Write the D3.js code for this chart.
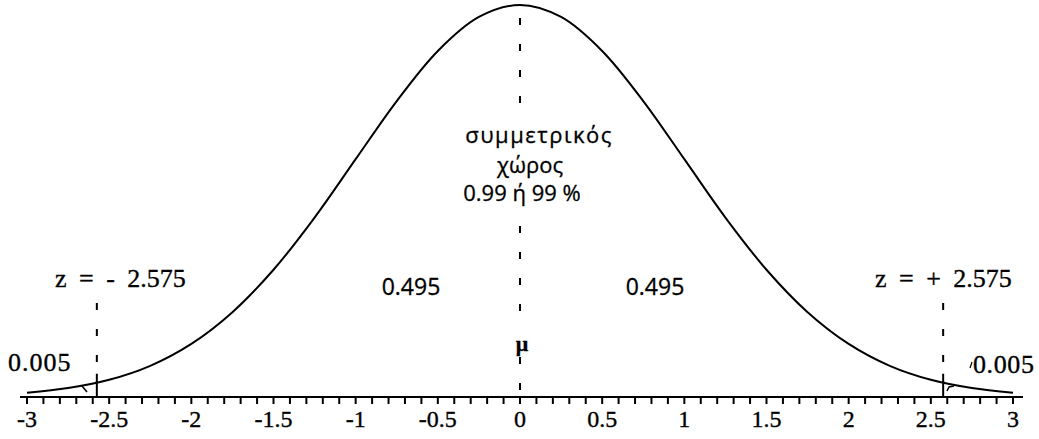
<!DOCTYPE html>
<html>
<head>
<meta charset="utf-8">
<script src="https://cdn.jsdelivr.net/npm/d3@7"></script>
<style>
  html, body { margin: 0; padding: 0; background: #fff; }
  svg { display: block; }
  .serif { font-family: "Liberation Serif", "Times New Roman", serif; fill: #000; stroke: #000; stroke-width: 0.35px; }
  .sans { font-family: "Open Sans", "DejaVu Sans", sans-serif; fill: #000; stroke: #000; stroke-width: 0.3px; }
</style>
</head>
<body>
<div class="graphics"></div>
<script>
// z values and density of the curve (step 0.25)
const zValues = [-3, -2.75, -2.5, -2.25, -2, -1.75, -1.5, -1.25, -1, -0.75, -0.5, -0.25,
  0, 0.25, 0.5, 0.75, 1, 1.25, 1.5, 1.75, 2, 2.25, 2.5, 2.75, 3];
const density = [0.0044, 0.0091, 0.0175, 0.0317, 0.0540, 0.0863, 0.1295, 0.1826, 0.2420, 0.3011, 0.3521, 0.3867,
  0.3989, 0.3867, 0.3521, 0.3011, 0.2420, 0.1826, 0.1295, 0.0863, 0.0540, 0.0317, 0.0175, 0.0091, 0.0044];

// critical values and the curve height at them
const cutZ = [-2.575, 2.575];
const cutDensity = [0.0145, 0.0145];

// axis ticks
const minorTicks = d3.range(-30, 31).map(d => d / 10);
const majorTicks = [-3, -2.5, -2, -1.5, -1, -0.5, 0, 0.5, 1, 1.5, 2, 2.5, 3];
const tickLabels = ["-3", "-2.5", "-2", "-1.5", "-1", "-0.5", "0", "0.5", "1", "1.5", "2", "2.5", "3"];

const width = 1039;
const height = 439;

const svg = d3.select(".graphics")
  .append("svg")
  .attr("width", width)
  .attr("height", height);

const x = d3.scaleLinear().domain([-3, 3]).range([27, 1013]);
const y = d3.scaleLinear().domain([0, 0.3989]).range([397, 5]);

// axis line + ticks
svg.append("line")
  .attr("x1", x(-3) - 7).attr("x2", x(3) + 10)
  .attr("y1", y(0)).attr("y2", y(0))
  .attr("stroke", "#000").attr("stroke-width", 2);

svg.append("g")
  .selectAll("line")
  .data(minorTicks)
  .join("line")
  .attr("x1", d => x(d)).attr("x2", d => x(d))
  .attr("y1", y(0)).attr("y2", y(0) + 7)
  .attr("stroke", "#000").attr("stroke-width", 2);

svg.append("g")
  .selectAll("text")
  .data(majorTicks)
  .join("text")
  .attr("class", "serif")
  .attr("x", d => x(d))
  .attr("y", 427)
  .attr("text-anchor", "middle")
  .attr("font-size", 24)
  .text((d, i) => tickLabels[i]);

// normal curve
const line = d3.line()
  .x((d, i) => x(zValues[i]))
  .y(d => y(d))
  .curve(d3.curveCatmullRom);

svg.append("path")
  .datum(density)
  .attr("d", line)
  .attr("fill", "none")
  .attr("stroke", "#000")
  .attr("stroke-width", 2);

// dashed centre line (broken where the text sits)
const centreParts = [[18, 105], [226, 314], [357, 397]];
svg.append("g")
  .selectAll("line")
  .data(centreParts)
  .join("line")
  .attr("x1", x(0)).attr("x2", x(0))
  .attr("y1", d => d[0]).attr("y2", d => d[1])
  .attr("stroke", "#000").attr("stroke-width", 2)
  .attr("stroke-dasharray", "7,19");

// critical value lines: dashed above the curve, solid below
cutZ.forEach((z, i) => {
  svg.append("line")
    .attr("x1", x(z)).attr("x2", x(z))
    .attr("y1", 303).attr("y2", y(cutDensity[i]))
    .attr("stroke", "#000").attr("stroke-width", 2)
    .attr("stroke-dasharray", "7,19");
  svg.append("line")
    .attr("x1", x(z)).attr("x2", x(z))
    .attr("y1", y(cutDensity[i]) - 9).attr("y2", y(0))
    .attr("stroke", "#000").attr("stroke-width", 2);
});

// little pointers into the tails
svg.append("path")
  .attr("d", "M82,386 L87,392")
  .attr("stroke", "#000").attr("stroke-width", 1.5).attr("fill", "none");
svg.append("path")
  .attr("d", "M947,391 L949,387 L954,386")
  .attr("stroke", "#000").attr("stroke-width", 1.5).attr("fill", "none");
svg.append("path")
  .attr("d", "M972,362 L970,368")
  .attr("stroke", "#000").attr("stroke-width", 1.2).attr("fill", "none");

// labels
svg.append("text").attr("class", "serif")
  .attr("x", 55).attr("y", 287).attr("font-size", 26)
  .style("word-spacing", "6px")
  .text("z = - 2.575");

svg.append("text").attr("class", "serif")
  .attr("x", 875).attr("y", 287).attr("font-size", 26)
  .style("word-spacing", "6px")
  .text("z = + 2.575");

svg.append("text").attr("class", "serif")
  .attr("x", 8).attr("y", 371).attr("font-size", 26)
  .style("letter-spacing", "1px")
  .text("0.005");

svg.append("text").attr("class", "serif")
  .attr("x", 973).attr("y", 373).attr("font-size", 26)
  .style("letter-spacing", "0.6px")
  .text("0.005");

svg.append("text").attr("class", "sans")
  .attr("x", 411).attr("y", 295).attr("text-anchor", "middle").attr("font-size", 23)
  .text("0.495");

svg.append("text").attr("class", "sans")
  .attr("x", 655).attr("y", 295).attr("text-anchor", "middle").attr("font-size", 23)
  .text("0.495");

svg.append("text").attr("class", "sans")
  .attr("x", 539).attr("y", 143).attr("text-anchor", "middle").attr("font-size", 22)
  .style("letter-spacing", "1.5px")
  .text("συμμετρικός");

svg.append("text").attr("class", "sans")
  .attr("x", 530).attr("y", 173).attr("text-anchor", "middle").attr("font-size", 22)
  .text("χώρος");

svg.append("text").attr("class", "sans")
  .attr("x", 522).attr("y", 201).attr("text-anchor", "middle").attr("font-size", 22)
  .text("0.99 ή 99 %");

svg.append("text").attr("class", "serif")
  .attr("x", 522).attr("y", 351).attr("text-anchor", "middle").attr("font-size", 22)
  .attr("font-weight", "bold")
  .text("μ");
</script>
</body>
</html>
